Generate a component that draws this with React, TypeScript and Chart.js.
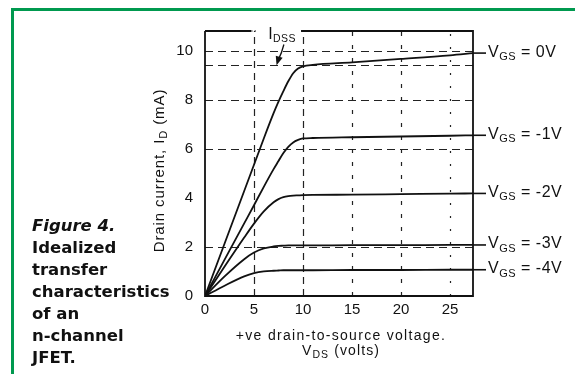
import React, { useEffect, useRef } from 'react';
import { Chart, registerables } from 'chart.js';

Chart.register(...registerables);

// ---------- data ----------
const VDS = [0, 2, 4, 5, 6, 7, 7.5, 8, 8.5, 9, 9.5, 10, 11, 15, 20, 25, 27.35];
const VGS = [0, -1, -2, -3, -4];
const ID_VGS_0 = [0, 2.14, 4.28, 5.35, 6.42, 7.45, 7.92, 8.35, 8.75, 9.08, 9.27, 9.36, 9.42, 9.52, 9.66, 9.81, 9.9];
const ID_VGS_M1 = [0, 1.48, 2.96, 3.7, 4.45, 5.17, 5.5, 5.83, 6.08, 6.26, 6.36, 6.42, 6.44, 6.47, 6.5, 6.53, 6.55];
const ID_VGS_M2 = [0, 1.2, 2.38, 2.95, 3.45, 3.82, 3.95, 4.03, 4.07, 4.09, 4.1, 4.11, 4.12, 4.13, 4.15, 4.17, 4.18];
const ID_VGS_M3 = [0, 0.8, 1.5, 1.77, 1.94, 2.02, 2.04, 2.05, 2.06, 2.06, 2.06, 2.06, 2.06, 2.07, 2.07, 2.08, 2.08];
const ID_VGS_M4 = [0, 0.42, 0.8, 0.93, 1.0, 1.03, 1.04, 1.05, 1.05, 1.05, 1.05, 1.05, 1.05, 1.06, 1.06, 1.07, 1.07];
const SERIES = [ID_VGS_0, ID_VGS_M1, ID_VGS_M2, ID_VGS_M3, ID_VGS_M4];

const X_TICKS = [0, 5, 10, 15, 20, 25];
const Y_TICKS = [0, 2, 4, 6, 8, 10];
const X_GRID = [5, 10, 15, 20, 25];
const Y_GRID = [2, 6, 8, 9.4, 10];
const IDSS = 9.4;
const X_MAX = 27.35;
const Y_MAX = 10.8;
// IDSS arrow (data units): tail and tip
const ARROW_TAIL = [8.05, 10.25];
const ARROW_TIP = [7.3, IDSS];
const LABEL_IDSS_X = 6.45;
const TOP_GAP = [5.2, 9.8];

const CAPTION_TITLE = 'Figure 4.';
const CAPTION_LINES = ['Idealized', 'transfer', 'characteristics', 'of an', 'n-channel', 'JFET.'];

// ---------- styles ----------
const GREEN = '#00994f';
const INK = '#111';
const FONT = '"Liberation Sans", Arial, Helvetica, sans-serif';
const X_GRID_DASH = [[7, 5], [7, 5], [4, 9], [4, 9], [2, 11]];

type Part = [string, boolean];

function drawRich(
  ctx: CanvasRenderingContext2D,
  parts: Part[],
  x: number,
  y: number,
  size: number,
  subSize: number,
  spacing: number,
  align: 'left' | 'center' = 'left'
) {
  (ctx as any).letterSpacing = spacing + 'px';
  ctx.textAlign = 'left';
  ctx.textBaseline = 'alphabetic';
  const widths = parts.map(([t, sub]) => {
    ctx.font = `${sub ? subSize : size}px ${FONT}`;
    return ctx.measureText(t).width;
  });
  const total = widths.reduce((a, b) => a + b, 0);
  let cx = align === 'center' ? x - total / 2 : x;
  parts.forEach(([t, sub], i) => {
    ctx.font = `${sub ? subSize : size}px ${FONT}`;
    ctx.fillText(t, cx, sub ? y + size * 0.22 : y);
    cx += widths[i];
  });
  (ctx as any).letterSpacing = '0px';
}

const overlay = {
  id: 'overlay',
  beforeDatasetsDraw(chart: any) {
    const { ctx, chartArea: a, scales } = chart;
    const xs = scales.x;
    const ys = scales.y;
    ctx.save();
    ctx.strokeStyle = '#222';
    ctx.lineWidth = 1.2;
    Y_GRID.forEach((v) => {
      const y = Math.round(ys.getPixelForValue(v)) + 0.5;
      ctx.setLineDash([8, 5]);
      ctx.beginPath();
      ctx.moveTo(a.left, y);
      ctx.lineTo(a.right, y);
      ctx.stroke();
    });
    X_GRID.forEach((v, i) => {
      const x = Math.round(xs.getPixelForValue(v)) + 0.5;
      ctx.setLineDash(X_GRID_DASH[i]);
      ctx.beginPath();
      ctx.moveTo(x, a.bottom);
      ctx.lineTo(x, a.top);
      ctx.stroke();
    });
    ctx.restore();
  },
  afterDatasetsDraw(chart: any) {
    const { ctx, chartArea: a, scales } = chart;
    const xs = scales.x;
    const ys = scales.y;
    ctx.save();
    ctx.setLineDash([]);
    ctx.strokeStyle = INK;
    ctx.fillStyle = INK;
    ctx.lineWidth = 1.8;
    // frame
    ctx.beginPath();
    ctx.moveTo(a.left, a.top);
    ctx.lineTo(a.left, a.bottom);
    ctx.lineTo(a.right, a.bottom);
    ctx.lineTo(a.right, a.top);
    ctx.lineTo(xs.getPixelForValue(TOP_GAP[1]), a.top);
    ctx.moveTo(a.left, a.top);
    ctx.lineTo(xs.getPixelForValue(TOP_GAP[0] - 0.5), a.top);
    ctx.stroke();
    ctx.lineWidth = 1.2;
    ctx.setLineDash([1.5, 2]);
    ctx.beginPath();
    ctx.moveTo(xs.getPixelForValue(TOP_GAP[0] - 0.5), a.top);
    ctx.lineTo(xs.getPixelForValue(TOP_GAP[0]), a.top);
    ctx.stroke();
    ctx.setLineDash([]);

    // right-hand curve labels with leaders
    SERIES.forEach((s, i) => {
      const y = ys.getPixelForValue(s[s.length - 1]);
      ctx.lineWidth = 1.6;
      ctx.beginPath();
      ctx.moveTo(a.right, y);
      ctx.lineTo(a.right + 13, y);
      ctx.stroke();
      drawRich(ctx, [['V', false], ['GS', true], [` = ${VGS[i]}V`, false]], a.right + 15, y + 3.5, 16, 11, 0.5);
    });

    // IDSS annotation
    const lx = xs.getPixelForValue(LABEL_IDSS_X);
    drawRich(ctx, [['I', false], ['DSS', true]], lx, a.top + 7.5, 16, 10.5, 0.4);
    const tx = xs.getPixelForValue(ARROW_TIP[0]);
    const ty = ys.getPixelForValue(ARROW_TIP[1]);
    const sx = xs.getPixelForValue(ARROW_TAIL[0]);
    const sy = ys.getPixelForValue(ARROW_TAIL[1]);
    ctx.lineWidth = 1.3;
    ctx.beginPath();
    ctx.moveTo(sx, sy);
    ctx.quadraticCurveTo(sx - 2, sy + 8, tx + 2, ty - 6);
    ctx.stroke();
    const ang = Math.atan2(ty - (ty - 8), tx - (tx + 2.5));
    const hl = 9;
    const hw = 3.6;
    const bx = tx - hl * Math.cos(ang);
    const by = ty - hl * Math.sin(ang);
    ctx.beginPath();
    ctx.moveTo(tx, ty);
    ctx.lineTo(bx + hw * Math.sin(ang), by - hw * Math.cos(ang));
    ctx.lineTo(bx - hw * Math.sin(ang), by + hw * Math.cos(ang));
    ctx.closePath();
    ctx.fill();

    // x title
    const cx = (a.left + a.right) / 2 + 2;
    drawRich(ctx, [['+ve drain-to-source voltage.', false]], cx, a.bottom + 44, 14, 10, 1.3, 'center');
    drawRich(ctx, [['V', false], ['DS', true], [' (volts)', false]], cx, a.bottom + 59, 14, 10.5, 1.1, 'center');

    // y title (rotated)
    ctx.save();
    ctx.translate(a.left - 41, (a.top + a.bottom) / 2 + 7);
    ctx.rotate(-Math.PI / 2);
    drawRich(ctx, [['Drain current, I', false], ['D', true], [' (mA)', false]], 0, 0, 15, 11, 0.9, 'center');
    ctx.restore();

    ctx.restore();
  },
};

export default function App() {
  const ref = useRef<HTMLCanvasElement | null>(null);

  useEffect(() => {
    if (!ref.current) return;
    const chart = new Chart(ref.current, {
      type: 'line',
      data: {
        datasets: SERIES.map((s, i) => ({
          label: `VGS = ${VGS[i]}V`,
          data: VDS.map((x, j) => ({ x, y: s[j] })),
          borderColor: INK,
          borderWidth: 1.8,
          pointRadius: 0,
          fill: false,
          cubicInterpolationMode: 'monotone' as const,
        })),
      },
      options: {
        responsive: false,
        animation: false,
        devicePixelRatio: 1,
        events: [],
        layout: { padding: { left: 155, right: 102, top: 31, bottom: 38 } },
        plugins: { legend: { display: false }, tooltip: { enabled: false } },
        scales: {
          x: {
            type: 'linear',
            min: 0,
            max: X_MAX,
            grid: { display: false, drawTicks: false },
            border: { display: false },
            ticks: { color: INK, font: { family: FONT, size: 15 }, padding: 5, autoSkip: false, maxRotation: 0 },
            afterBuildTicks: (s: any) => {
              s.ticks = X_TICKS.map((v) => ({ value: v }));
            },
            afterFit: (s: any) => {
              s.height = 40;
            },
          },
          y: {
            type: 'linear',
            min: 0,
            max: Y_MAX,
            grid: { display: false, drawTicks: false },
            border: { display: false },
            ticks: { color: INK, font: { family: FONT, size: 15 }, padding: 12, autoSkip: false },
            afterBuildTicks: (s: any) => {
              s.ticks = Y_TICKS.map((v) => ({ value: v }));
            },
            afterFit: (s: any) => {
              s.width = 50;
            },
          },
        },
      },
      plugins: [overlay],
    } as any);
    return () => chart.destroy();
  }, []);

  return (
    <div style={{ position: 'absolute', left: 0, top: 0, width: 575, height: 374, background: '#fff', overflow: 'hidden' }}>
      <canvas ref={ref} width={575} height={374} style={{ position: 'absolute', left: 0, top: 0 }} />
      <div style={{ position: 'absolute', left: 11, top: 8, right: 0, height: 3, background: GREEN }} />
      <div style={{ position: 'absolute', left: 11, top: 8, bottom: 0, width: 3, background: GREEN }} />
      <div
        style={{
          position: 'absolute',
          left: 32,
          top: 215,
          fontFamily: '"DejaVu Sans", Verdana, sans-serif',
          fontWeight: 'bold',
          fontSize: 16.5,
          lineHeight: '22px',
          color: INK,
          whiteSpace: 'nowrap',
        }}
      >
        <div style={{ fontStyle: 'italic' }}>{CAPTION_TITLE}</div>
        {CAPTION_LINES.map((l) => (
          <div key={l}>{l}</div>
        ))}
      </div>
    </div>
  );
}
